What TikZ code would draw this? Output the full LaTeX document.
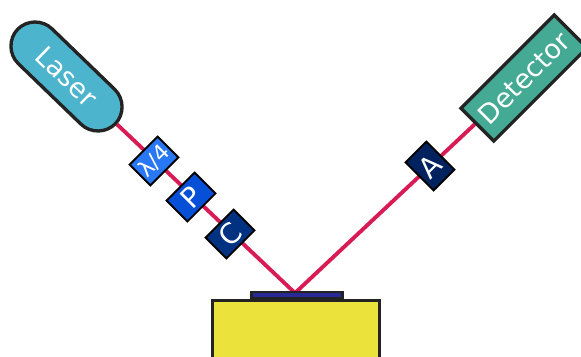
\documentclass[tikz,border=0pt]{standalone}
\usepackage{fontspec}
\setmainfont{DejaVu Sans}
\usetikzlibrary{backgrounds}
\definecolor{lasercol}{RGB}{77,180,206}
\definecolor{detcol}{RGB}{68,170,148}
\definecolor{waveplate}{RGB}{40,120,245}
\definecolor{polcol}{RGB}{5,80,215}
\definecolor{compcol}{RGB}{0,50,130}
\definecolor{anacol}{RGB}{0,35,95}
\definecolor{beamcol}{RGB}{217,27,85}
\definecolor{samplecol}{RGB}{236,226,60}
\definecolor{filmcol}{RGB}{40,40,150}
\definecolor{edgecol}{RGB}{35,35,35}
\tikzset{
  optic/.style={draw=black,line width=1.1pt,text=white,minimum width=0.79cm,minimum height=0.59cm,
    inner sep=0pt,rotate=45,font=\fontsize{16}{16}\selectfont},
  source/.style={draw=edgecol,line width=1.9pt,text=white,minimum width=2.64cm,minimum height=0.93cm,
    inner sep=0pt,font=\fontsize{15.3}{15.3}\selectfont},
  beam/.style={draw=beamcol,line width=2.2pt}
}

\begin{document}
\begin{tikzpicture}[x=0.02cm,y=-0.02cm]
  \path[use as bounding box,clip] (0,0) rectangle (581,356);
  % ---------------- sample ----------------
  \draw[edgecol,line width=1.9pt,fill=samplecol] (212.5,370) -- (212.5,300.5) -- (379.5,300.5) -- (379.5,370);
  \fill[edgecol] (250,291) rectangle (344,300);
  \fill[filmcol] (253,293.3) rectangle (341,296.7);
  \coordinate (spot) at (295,293);
  % ---------------- source and detector ----------------
  \node[source,fill=lasercol,rounded corners=14pt,rotate=-44,minimum width=2.72cm,minimum height=0.97cm] (laser) at (66.5,76.5) {Laser};
  \node[source,fill=detcol,rotate=45] (detector) at (524,78) {Detector};
  % ---------------- optics ----------------
  \node[optic,fill=waveplate,font=\fontsize{12.5}{12.5}\selectfont] (wave) at (154,161) {λ/4};
  \node[optic,fill=polcol] (pol) at (191,197) {P};
  \node[optic,fill=compcol] (comp) at (230,234) {C};
  \node[optic,fill=anacol,minimum width=0.59cm,minimum height=0.79cm] (ana) at (430,166) {A};
  % ---------------- beam ----------------
  \begin{scope}[on background layer]
    \draw[beam] (laser) -- (spot) -- (detector);
  \end{scope}
\end{tikzpicture}
\end{document}
